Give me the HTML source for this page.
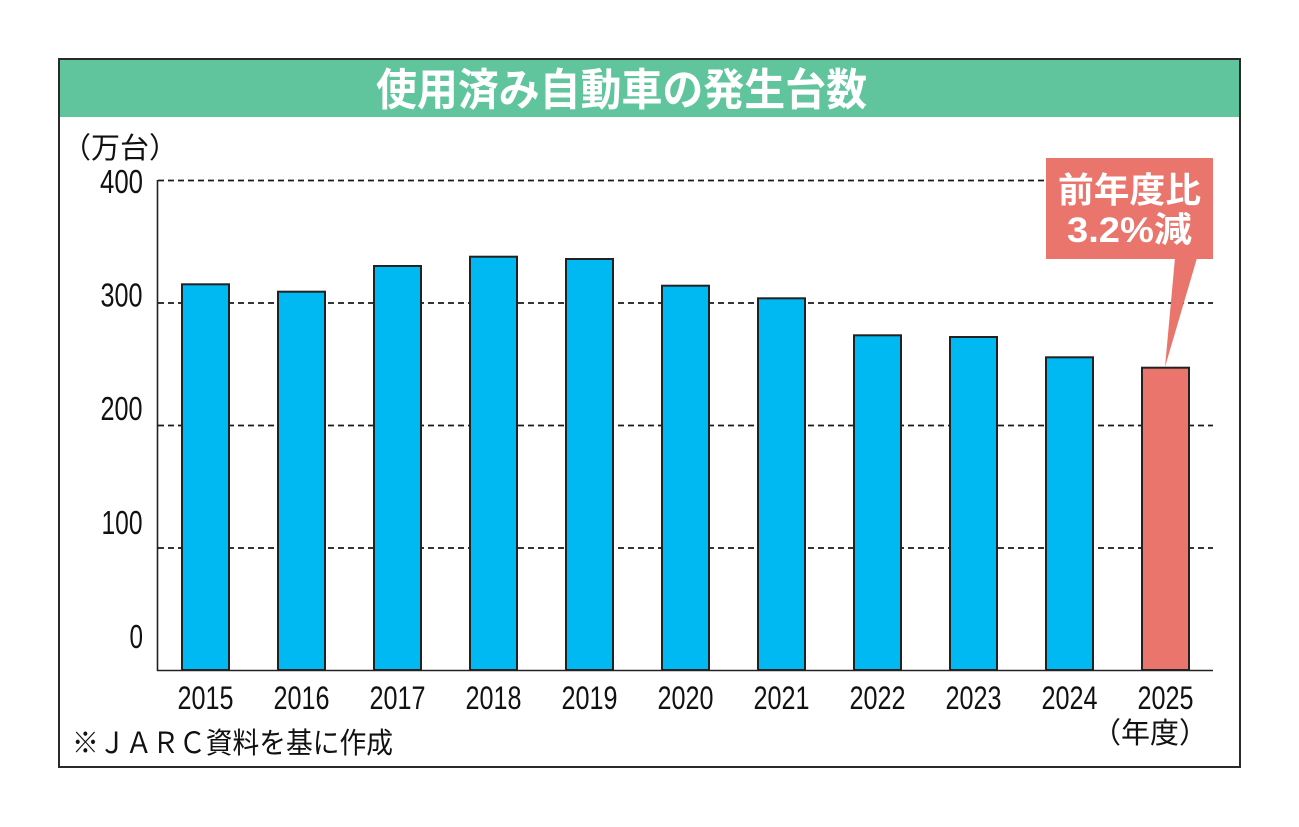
<!DOCTYPE html>
<html><head><meta charset="utf-8"><style>
html,body{margin:0;padding:0;background:#fff;}
svg{display:block;}
</style></head><body>
<svg width="1299" height="827" viewBox="0 0 1299 827" xmlns="http://www.w3.org/2000/svg">
<rect x="0" y="0" width="1299" height="827" fill="#fff"/>
<!-- header -->
<rect x="59" y="59" width="1181" height="58" fill="#60c49d"/>
<!-- frame -->
<rect x="59" y="59" width="1181" height="708" fill="none" stroke="#2a2a2a" stroke-width="2"/>
<text x="376" y="105" font-family="'Liberation Sans','Noto Sans CJK JP',sans-serif" font-weight="bold" font-size="44" fill="#fff" textLength="491" lengthAdjust="spacingAndGlyphs">使用済み自動車の発生台数</text>

<!-- gridlines -->
<g stroke="#1a1a1a" stroke-width="1.8" stroke-dasharray="6 4">
<line x1="158" y1="180.5" x2="1213" y2="180.5"/>
<line x1="158" y1="303" x2="1213" y2="303"/>
<line x1="158" y1="425.5" x2="1213" y2="425.5"/>
<line x1="158" y1="548" x2="1213" y2="548"/>
</g>

<!-- bars -->
<g stroke="#222" stroke-width="2" fill="#00b8f2">
<rect x="182" y="284.3" width="47" height="385.7"/>
<rect x="278" y="291.7" width="47" height="378.3"/>
<rect x="374" y="266" width="47" height="404"/>
<rect x="470" y="256.7" width="47" height="413.3"/>
<rect x="566" y="259" width="47" height="411"/>
<rect x="662" y="285.7" width="47" height="384.3"/>
<rect x="758" y="298.3" width="47" height="371.7"/>
<rect x="854" y="335.3" width="47" height="334.7"/>
<rect x="950" y="337" width="47" height="333"/>
<rect x="1046" y="357.3" width="47" height="312.7"/>
<rect x="1142" y="367.7" width="47" height="302.3" fill="#e9756c"/>
</g>

<!-- axes -->
<line x1="157.5" y1="180" x2="157.5" y2="671" stroke="#222" stroke-width="1.6"/>
<line x1="157" y1="670.5" x2="1213" y2="670.5" stroke="#222" stroke-width="1.6"/>

<!-- callout -->
<rect x="1046" y="158" width="167" height="101" fill="#e9756c"/>
<polygon points="1175,258 1197,258 1165,367" fill="#e9756c"/>
<text x="1058" y="202.5" font-family="'Liberation Sans','Noto Sans CJK JP',sans-serif" font-weight="bold" font-size="35" fill="#fff" textLength="143" lengthAdjust="spacingAndGlyphs">前年度比</text>
<text x="1067" y="242" font-family="'Liberation Sans','Noto Sans CJK JP',sans-serif" font-weight="bold" font-size="35" fill="#fff" textLength="125" lengthAdjust="spacingAndGlyphs">3.2%減</text>

<!-- y labels -->
<g font-family="'Liberation Sans',sans-serif" font-size="33" fill="#111">
<text x="100" y="193" textLength="43" lengthAdjust="spacingAndGlyphs">400</text>
<text x="100.5" y="306.5" textLength="42" lengthAdjust="spacingAndGlyphs">300</text>
<text x="100.5" y="420" textLength="42" lengthAdjust="spacingAndGlyphs">200</text>
<text x="101.5" y="534" textLength="41" lengthAdjust="spacingAndGlyphs">100</text>
<text x="129.5" y="648" textLength="13.5" lengthAdjust="spacingAndGlyphs">0</text>
</g>
<text x="62" y="158" font-family="'Liberation Sans','Noto Sans CJK JP',sans-serif" font-size="29" fill="#111">（万台）</text>

<!-- x labels -->
<g font-family="'Liberation Sans',sans-serif" font-size="32" fill="#111">
<text x="177.5" y="709" textLength="56" lengthAdjust="spacingAndGlyphs">2015</text>
<text x="273.5" y="709" textLength="56" lengthAdjust="spacingAndGlyphs">2016</text>
<text x="369.5" y="709" textLength="56" lengthAdjust="spacingAndGlyphs">2017</text>
<text x="465.5" y="709" textLength="56" lengthAdjust="spacingAndGlyphs">2018</text>
<text x="561.5" y="709" textLength="56" lengthAdjust="spacingAndGlyphs">2019</text>
<text x="657.5" y="709" textLength="56" lengthAdjust="spacingAndGlyphs">2020</text>
<text x="753.5" y="709" textLength="56" lengthAdjust="spacingAndGlyphs">2021</text>
<text x="849.5" y="709" textLength="56" lengthAdjust="spacingAndGlyphs">2022</text>
<text x="945.5" y="709" textLength="56" lengthAdjust="spacingAndGlyphs">2023</text>
<text x="1041.5" y="709" textLength="56" lengthAdjust="spacingAndGlyphs">2024</text>
<text x="1137.5" y="709" textLength="56" lengthAdjust="spacingAndGlyphs">2025</text>
</g>
<text x="1092" y="743" font-family="'Liberation Sans','Noto Sans CJK JP',sans-serif" font-size="29" fill="#111">（年度）</text>

<!-- footnote -->
<text x="72" y="753" font-family="'Liberation Sans','Noto Sans CJK JP',sans-serif" font-size="29" fill="#111" textLength="321" lengthAdjust="spacingAndGlyphs">※ＪＡＲＣ資料を基に作成</text>
</svg>
</body></html>
